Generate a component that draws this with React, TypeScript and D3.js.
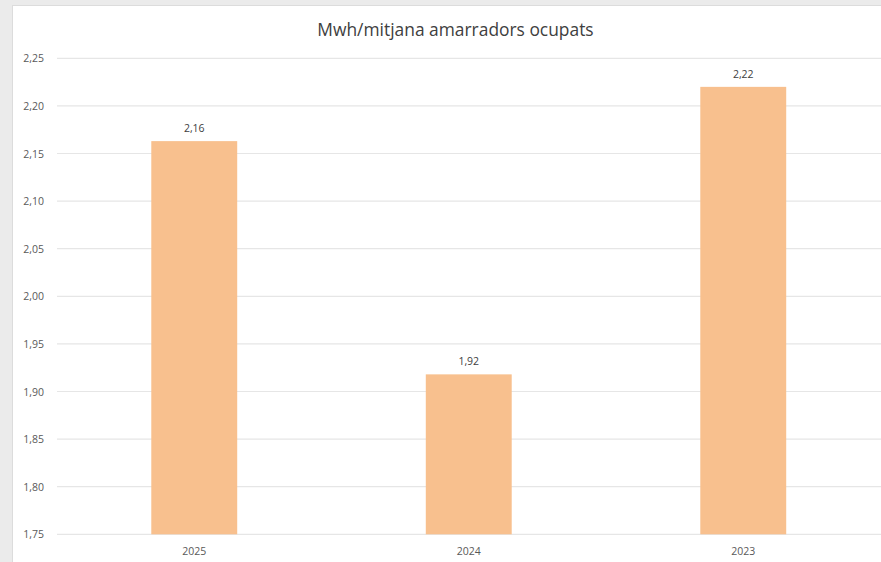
import React from "react";
import * as d3 from "d3";

const categories = ["2025", "2024", "2023"];
const values = [2.163, 1.918, 2.22];
const valueLabels = ["2,16", "1,92", "2,22"];
const yTicks = [1.75, 1.8, 1.85, 1.9, 1.95, 2.0, 2.05, 2.1, 2.15, 2.2, 2.25];
const title = "Mwh/mitjana amarradors ocupats";

const W = 881;
const H = 562;

export default function App() {
  const y = d3.scaleLinear().domain([1.75, 2.25]).range([534.3, 58.3]);
  const x = d3
    .scaleBand<string>()
    .domain(categories)
    .range([57, 880.5])
    .paddingInner(0.687)
    .paddingOuter(0.3435);
  const fmt = (v: number) => v.toFixed(2).replace(".", ",");
  const font = "'Open Sans', 'Noto Sans', sans-serif";
  return (
    <svg
      width={W}
      height={H}
      style={{ position: "absolute", left: 0, top: 0 }}
      fontFamily={font}
    >
      <rect x={0} y={0} width={W} height={H} fill="#ebebeb" />
      <rect x={12.5} y={5.5} width={W} height={H} fill="#ffffff" stroke="#dcdcdc" strokeWidth={1} />
      <text x={455.5} y={36} textAnchor="middle" fontSize={17.4} fill="#404040">
        {title}
      </text>
      {yTicks.map((t) => (
        <g key={t}>
          <line x1={57} x2={W} y1={y(t)} y2={y(t)} stroke="#e6e6e6" strokeWidth={1.2} />
          <text x={44} y={y(t) + 4} textAnchor="end" fontSize={10.5} fill="#595959">
            {fmt(t)}
          </text>
        </g>
      ))}
      {categories.map((c, i) => (
        <g key={c}>
          <rect
            x={x(c)}
            y={y(values[i])}
            width={x.bandwidth()}
            height={y(1.75) - y(values[i])}
            fill="#f8c08e"
          />
          <text
            x={(x(c) as number) + x.bandwidth() / 2}
            y={y(values[i]) - 9}
            textAnchor="middle"
            fontSize={10.5}
            fill="#404040"
          >
            {valueLabels[i]}
          </text>
          <text
            x={(x(c) as number) + x.bandwidth() / 2}
            y={555}
            textAnchor="middle"
            fontSize={10.5}
            fill="#595959"
          >
            {c}
          </text>
        </g>
      ))}
    </svg>
  );
}
